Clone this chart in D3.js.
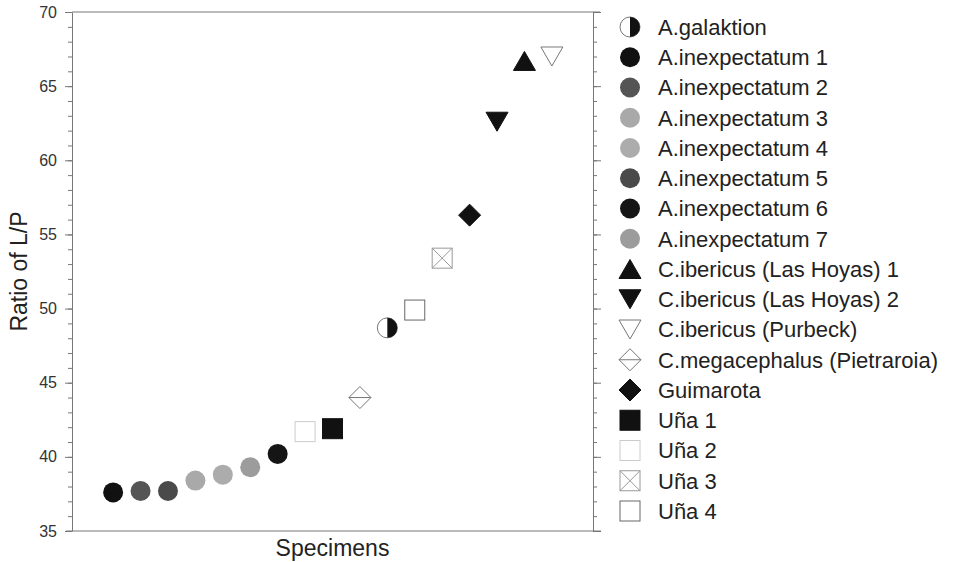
<!DOCTYPE html>
<html>
<head>
<meta charset="utf-8">
<script src="https://cdn.jsdelivr.net/npm/d3@7"></script>
<style>
  body { margin: 0; background: #fff; }
  svg { font-family: "Liberation Sans", Arial, sans-serif; }
</style>
</head>
<body>
<div id="chart"></div>
<script>
// legend order
const species = [
    "A.galaktion", "A.inexpectatum 1", "A.inexpectatum 2", "A.inexpectatum 3",
    "A.inexpectatum 4", "A.inexpectatum 5", "A.inexpectatum 6", "A.inexpectatum 7",
    "C.ibericus (Las Hoyas) 1", "C.ibericus (Las Hoyas) 2", "C.ibericus (Purbeck)",
    "C.megacephalus (Pietraroia)", "Guimarota", "Uña 1", "Uña 2", "Uña 3", "Uña 4"
];

// plot order, left to right
const specimens = [
    "A.inexpectatum 1", "A.inexpectatum 2", "A.inexpectatum 5", "A.inexpectatum 3",
    "A.inexpectatum 4", "A.inexpectatum 7", "A.inexpectatum 6", "Uña 2", "Uña 1",
    "C.megacephalus (Pietraroia)", "A.galaktion", "Uña 4", "Uña 3", "Guimarota",
    "C.ibericus (Las Hoyas) 2", "C.ibericus (Las Hoyas) 1", "C.ibericus (Purbeck)"
];
const ratios = [37.6, 37.7, 37.7, 38.4, 38.8, 39.3, 40.2, 41.7, 41.9, 44.0, 48.7, 49.9, 53.4, 56.3, 62.6, 66.7, 67.0];

const yTicks = [35, 40, 45, 50, 55, 60, 65, 70];

// marker look per species
const markers = {
    "A.galaktion": { shape: "half", fill: "#111", stroke: "#777" },
    "A.inexpectatum 1": { shape: "circle", fill: "#111" },
    "A.inexpectatum 2": { shape: "circle", fill: "#555" },
    "A.inexpectatum 3": { shape: "circle", fill: "#a9a9a9" },
    "A.inexpectatum 4": { shape: "circle", fill: "#acacac" },
    "A.inexpectatum 5": { shape: "circle", fill: "#4a4a4a" },
    "A.inexpectatum 6": { shape: "circle", fill: "#151515" },
    "A.inexpectatum 7": { shape: "circle", fill: "#9c9c9c" },
    "C.ibericus (Las Hoyas) 1": { shape: "triUp", fill: "#111" },
    "C.ibericus (Las Hoyas) 2": { shape: "triDown", fill: "#111" },
    "C.ibericus (Purbeck)": { shape: "triDown", fill: "#fff", stroke: "#777" },
    "C.megacephalus (Pietraroia)": { shape: "diamondLine", fill: "#fff", stroke: "#777" },
    "Guimarota": { shape: "diamond", fill: "#111" },
    "Uña 1": { shape: "square", fill: "#111" },
    "Uña 2": { shape: "square", fill: "#fff", stroke: "#ccc" },
    "Uña 3": { shape: "squareX", fill: "#fff", stroke: "#999" },
    "Uña 4": { shape: "square", fill: "#fff", stroke: "#666" }
};

function drawMarker(g, m) {
    const stroke = m.stroke || m.fill;
    if (m.shape === "circle") {
        g.append("circle").attr("r", 10).attr("fill", m.fill);
    } else if (m.shape === "half") {
        g.append("circle").attr("r", 10).attr("fill", "#fff").attr("stroke", stroke);
        g.append("path").attr("d", "M0,-10A10,10 0 0,1 0,10Z").attr("fill", m.fill);
    } else if (m.shape === "square" || m.shape === "squareX") {
        g.append("rect").attr("x", -10).attr("y", -10).attr("width", 20).attr("height", 20)
            .attr("fill", m.fill).attr("stroke", stroke);
        if (m.shape === "squareX")
            g.append("path").attr("d", "M-10,-10L10,10M10,-10L-10,10").attr("stroke", stroke);
    } else if (m.shape === "triUp") {
        g.append("path").attr("d", "M0,-9.5L11,9.5L-11,9.5Z").attr("fill", m.fill).attr("stroke", stroke);
    } else if (m.shape === "triDown") {
        g.append("path").attr("d", "M-11,-9.5L11,-9.5L0,9.5Z").attr("fill", m.fill).attr("stroke", stroke);
    } else if (m.shape === "diamond" || m.shape === "diamondLine") {
        g.append("path").attr("d", "M0,-11L11,0L0,11L-11,0Z").attr("fill", m.fill).attr("stroke", stroke);
        if (m.shape === "diamondLine")
            g.append("path").attr("d", "M-11,0L11,0").attr("stroke", stroke);
    }
}

const width = 955;
const height = 562;
const margin = { top: 12, right: 362, bottom: 31, left: 72 };

const svg = d3.select("#chart")
    .append("svg")
    .attr("width", width)
    .attr("height", height);

const x = d3.scaleLinear()
    .domain([-1.5, specimens.length + 0.5])
    .range([margin.left, width - margin.right]);

const y = d3.scaleLinear()
    .domain([35, 70])
    .range([height - margin.bottom, margin.top]);

const axisColor = "#777";

// minor ticks every unit
const minor = d3.range(35, 71);

svg.append("g")
    .attr("transform", `translate(${margin.left},0)`)
    .call(d3.axisLeft(y).tickValues(minor).tickSize(4).tickSizeOuter(0).tickFormat(""))
    .call(g => g.selectAll("line,path").attr("stroke", axisColor));

svg.append("g")
    .attr("transform", `translate(${margin.left},0)`)
    .call(d3.axisLeft(y).tickValues(yTicks).tickSize(7).tickSizeOuter(0).tickPadding(8))
    .call(g => g.select(".domain").remove())
    .call(g => g.selectAll("line").attr("stroke", axisColor))
    .call(g => g.selectAll("text").attr("fill", "#333").style("font-size", "16px"));

const xr = width - margin.right;
svg.append("g")
    .attr("transform", `translate(${xr},0)`)
    .call(d3.axisRight(y).tickValues(minor).tickSize(4).tickSizeOuter(0).tickFormat(""))
    .call(g => g.selectAll("line,path").attr("stroke", axisColor));

svg.append("g")
    .attr("transform", `translate(${xr},0)`)
    .call(d3.axisRight(y).tickValues(yTicks).tickSize(8).tickFormat(""))
    .call(g => g.select(".domain").remove())
    .call(g => g.selectAll("line").attr("stroke", axisColor));

// top and bottom frame
svg.append("line")
    .attr("x1", margin.left).attr("x2", xr + 7)
    .attr("y1", y(70)).attr("y2", y(70))
    .attr("stroke", axisColor);
svg.append("line")
    .attr("x1", margin.left - 6).attr("x2", xr + 8)
    .attr("y1", y(35)).attr("y2", y(35))
    .attr("stroke", axisColor);

// axis titles
svg.append("text")
    .attr("transform", `translate(27,${(y(35) + y(70)) / 2}) rotate(-90)`)
    .attr("text-anchor", "middle")
    .attr("fill", "#222")
    .style("font-size", "23px")
    .text("Ratio of L/P");

svg.append("text")
    .attr("x", (margin.left + xr) / 2)
    .attr("y", 556)
    .attr("text-anchor", "middle")
    .attr("fill", "#222")
    .style("font-size", "23px")
    .text("Specimens");

// points
specimens.forEach((name, i) => {
    const g = svg.append("g").attr("transform", `translate(${x(i)},${y(ratios[i])})`);
    drawMarker(g, markers[name]);
});

// legend
const legend = svg.append("g");
species.forEach((name, i) => {
    const row = legend.append("g").attr("transform", `translate(630,${27 + i * 30.25})`);
    drawMarker(row, markers[name]);
    row.append("text")
        .attr("x", 28)
        .attr("dy", "0.36em")
        .attr("fill", "#222")
        .style("font-size", "22px")
        .text(name);
});
</script>
</body>
</html>
